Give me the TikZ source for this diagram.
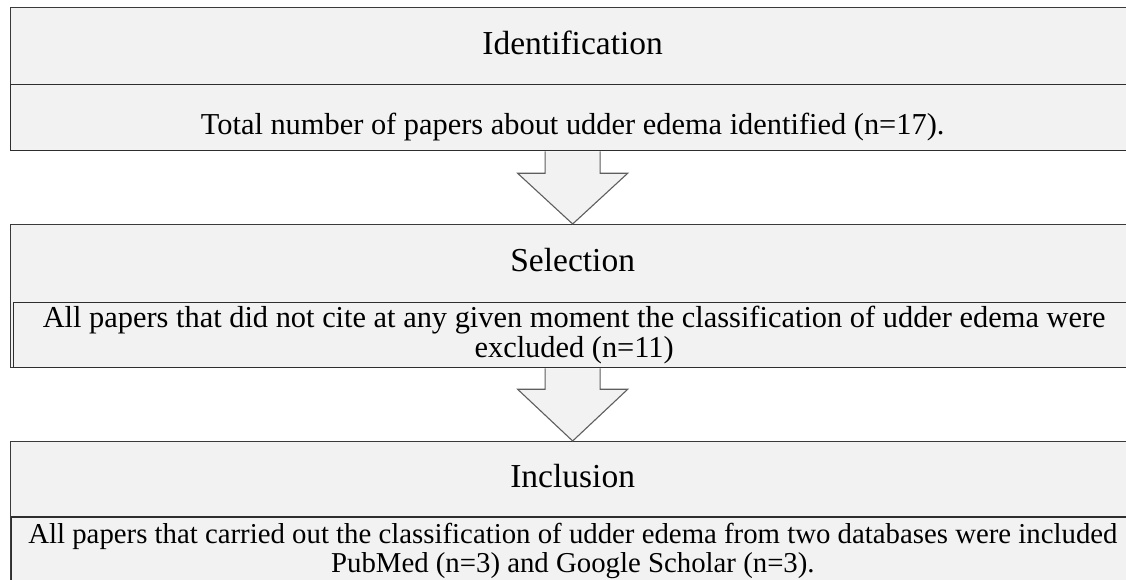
\documentclass[tikz,border=0pt]{standalone}
\usepackage{fontspec}
\setmainfont{Liberation Serif}
\usetikzlibrary{positioning}

\definecolor{boxfill}{HTML}{F2F2F2}
\definecolor{boxline}{HTML}{3A3A3A}
\definecolor{arrowline}{HTML}{5E5E5E}

\tikzset{
  frame/.style={draw=boxline, fill=boxfill, line width=1.3pt, minimum width=1124pt, inner sep=0pt},
  lowbox/.style={draw=boxline!80!black, fill=boxfill, line width=1.3pt, inner sep=0pt},
  title/.style={font=\fontsize{33.5}{38}\selectfont, inner sep=0pt},
  body/.style={font=\fontsize{30.4}{30}\selectfont, align=center, inner sep=0pt}
}
\tikzset{blockarrow/.style={draw=arrowline, fill=boxfill, line width=1.1pt, line join=miter}}

\begin{document}
\begin{tikzpicture}[x=1pt,y=1pt]

    \useasboundingbox[fill=white] (0,0) rectangle (1126,580);

    % Boxes
    \node[frame, minimum height=143pt, anchor=north west] (id)  at (10,573) {}; %
    \node[lowbox, minimum width=1124pt, minimum height=66pt, anchor=south west] (idlow) at (id.south west) {}; %

    \node[frame, minimum height=143pt, anchor=north west] (sel) at (10,356) {}; %
    \node[lowbox, minimum width=1121pt, minimum height=65pt, anchor=south east] (sellow) at (sel.south east) {}; %

    \node[frame, minimum height=159pt, anchor=north west] (inc) at (10,139) {}; %
    \node[lowbox, line width=1.8pt, minimum width=1123pt, minimum height=83pt, anchor=south east] (inclow) at (inc.south east) {}; %

    % Texts
    \node[title, below=48pt of id.north, anchor=base]  (idtitle)  {Identification}; %
    \node[title, below=48pt of sel.north, anchor=base] (seltitle) {Selection}; %
    \node[title, below=47pt of inc.north, anchor=base] (inctitle) {Inclusion}; %

    \node[body, below=51pt of idlow.north, anchor=base] (idtext)
      {Total number of papers about udder edema identified (n=17).}; %
    \node[body, below=4pt of sellow.north, anchor=north] (seltext)
      {All papers that did not cite at any given moment the classification of udder edema were\\excluded (n=11)}; %
    \node[body, font=\fontsize{28.8}{29}\selectfont, below=7pt of inclow.north, anchor=north] (inctext)
      {All papers that carried out the classification of udder edema from two databases were included\\PubMed (n=3) and Google Scholar (n=3).}; %

    % Arrows
    \draw[blockarrow] ([xshift=-27.5pt]idlow.south) -- ++(0,-22pt) -- ++(-27.5pt,0)
      -- (sel.north) -- ([xshift=55pt,yshift=-22pt]idlow.south) -- ++(-27.5pt,0)
      -- ([xshift=27.5pt]idlow.south); %
    \draw[blockarrow] ([xshift=-27.5pt]sel.south) -- ++(0,-21pt) -- ++(-27.5pt,0)
      -- (inc.north) -- ([xshift=55pt,yshift=-21pt]sel.south) -- ++(-27.5pt,0)
      -- ([xshift=27.5pt]sel.south); %

\end{tikzpicture}
\end{document}
